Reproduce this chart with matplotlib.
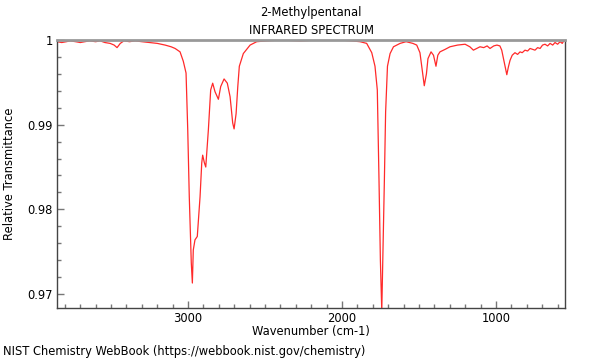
import matplotlib
matplotlib.use("Agg")
import matplotlib.pyplot as plt
from matplotlib.ticker import MultipleLocator, FixedFormatter, FixedLocator

compound = "2-Methylpentanal"
spectrum_kind = "INFRARED SPECTRUM"

# wavenumber (cm-1) and relative transmittance
# (rows of the two lists line up one to one)
wavenumber = [
    3851, 3820, 3790, 3766, 3730, 3700, 3669, 3640, 3600, 3571, 3540, 3506,
    3480, 3461, 3440, 3416, 3380, 3344, 3300, 3247, 3200, 3149, 3110, 3084,
    3052, 3031, 3013, 3002, 2992, 2979, 2972, 2966, 2955, 2940, 2922, 2911,
    2905, 2894, 2885, 2868, 2853, 2840, 2825, 2803, 2788, 2766, 2745, 2727,
    2710, 2701, 2688, 2677, 2667, 2641, 2597, 2554, 2489, 2400, 2273, 2150,
    2013, 1940, 1883, 1840, 1807, 1786, 1771, 1760, 1751, 1742, 1733, 1725,
    1717, 1705, 1688, 1666, 1623, 1584, 1540, 1515, 1494, 1480, 1466, 1452,
    1442, 1422, 1406, 1390, 1378, 1364, 1330, 1299, 1250, 1201, 1170, 1147,
    1125, 1104, 1080, 1058, 1039, 1015, 994, 975, 963, 948, 930, 920,
    909, 895, 877, 860, 844, 830, 812, 795, 779, 762, 747, 730,
    714, 698, 682, 665, 649, 632, 617, 600, 584, 570, 560, 552,
]
transmittance = [
    0.9998, 0.9997, 0.9998, 0.9999, 0.9998, 0.9997, 0.9998, 0.9999, 0.9998, 0.9999, 0.9997, 0.9996,
    0.9994, 0.9991, 0.9996, 0.9999, 0.9998, 0.9999, 0.9998, 0.9997, 0.9996, 0.9994, 0.9992, 0.9990,
    0.9986, 0.9975, 0.9961, 0.9894, 0.9815, 0.9737, 0.9713, 0.9752, 0.9764, 0.9768, 0.9815, 0.9855,
    0.9864, 0.9855, 0.9850, 0.9894, 0.9941, 0.9949, 0.9939, 0.9930, 0.9945, 0.9954, 0.9949, 0.9933,
    0.9902, 0.9895, 0.9913, 0.9945, 0.9969, 0.9984, 0.9994, 0.9998, 0.9999, 1.0000, 0.9999, 1.0000,
    1.0000, 0.9999, 0.9998, 0.9996, 0.9985, 0.9969, 0.9941, 0.9835, 0.9740, 0.9680, 0.9760, 0.9835,
    0.9915, 0.9969, 0.9984, 0.9992, 0.9996, 0.9998, 0.9996, 0.9994, 0.9985, 0.9965, 0.9946, 0.9960,
    0.9978, 0.9986, 0.9982, 0.9969, 0.9982, 0.9986, 0.9989, 0.9992, 0.9994, 0.9995, 0.9992, 0.9988,
    0.9990, 0.9992, 0.9991, 0.9993, 0.9990, 0.9993, 0.9994, 0.9993, 0.9988, 0.9975, 0.9959, 0.9968,
    0.9976, 0.9982, 0.9985, 0.9983, 0.9986, 0.9985, 0.9988, 0.9987, 0.9990, 0.9989, 0.9988, 0.9991,
    0.9990, 0.9994, 0.9995, 0.9993, 0.9996, 0.9994, 0.9997, 0.9995, 0.9998, 0.9996, 0.9999, 0.9999,
]

x_range = (3851, 552)
y_range = (0.96835, 1.0)
y_ticks = [0.97, 0.98, 0.99, 1.0]
y_tick_labels = ["0.97", "0.98", "0.99", "1"]

FS = 8.3
plt.rcParams["font.family"] = "DejaVu Sans"
plt.rcParams["font.size"] = FS

fig = plt.figure(figsize=(6, 3.6), dpi=100)
ax = fig.add_axes([0.095, 0.1444, 0.8467, 0.7445])

ax.plot(wavenumber, transmittance, color="#ff2a2a", linewidth=0.9)

ax.set_xlim(*x_range)
ax.set_ylim(*y_range)
ax.xaxis.set_major_locator(MultipleLocator(1000))
ax.xaxis.set_minor_locator(MultipleLocator(100))
ax.yaxis.set_major_locator(FixedLocator(y_ticks))
ax.yaxis.set_major_formatter(FixedFormatter(y_tick_labels))
ax.yaxis.set_minor_locator(MultipleLocator(0.002))

ax.tick_params(which="both", direction="in", color="#777777", width=1)
ax.tick_params(which="major", length=5, labelsize=FS)
ax.tick_params(axis="x", which="major", pad=3)
ax.tick_params(axis="y", which="major", pad=3)
ax.tick_params(which="minor", length=3)
ax.tick_params(top=False, right=False, which="both")

for side in ("left", "bottom", "right"):
    ax.spines[side].set_color("#444444")
    ax.spines[side].set_linewidth(1)
ax.spines["top"].set_color("#999999")
ax.spines["top"].set_linewidth(2)

ax.set_xlabel("Wavenumber (cm-1)", fontsize=FS, labelpad=0)
ax.set_ylabel("Relative Transmittance", fontsize=FS, labelpad=8)
ax.set_title(compound + "\n" + spectrum_kind, fontsize=FS, pad=4.5, linespacing=1.45)

fig.text(0.005, 0.006, "NIST Chemistry WebBook (https://webbook.nist.gov/chemistry)",
         fontsize=FS, ha="left", va="bottom")

fig.savefig("out.png", dpi=100)
